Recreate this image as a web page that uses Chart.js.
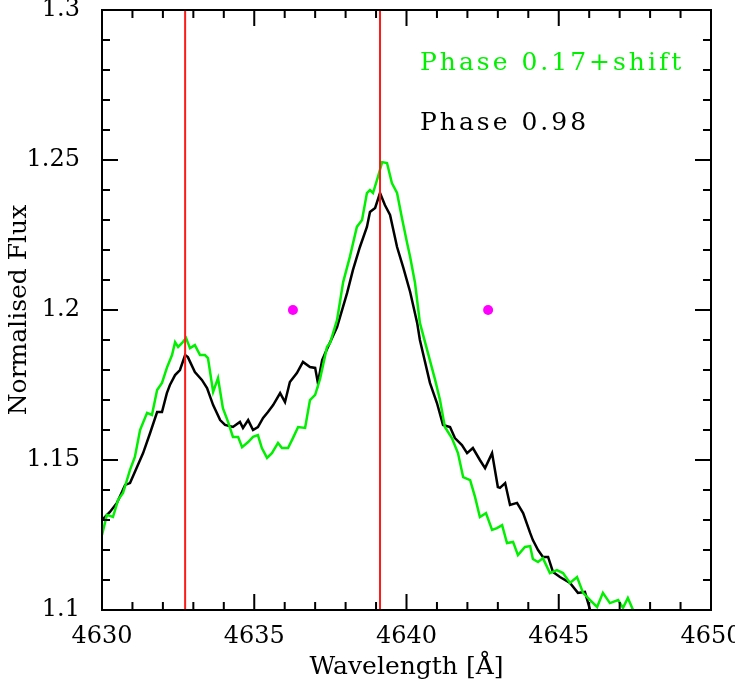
<!DOCTYPE html>
<html>
<head>
<meta charset="utf-8">
<script src="https://cdn.jsdelivr.net/npm/chart.js@4.4.1/dist/chart.umd.min.js"></script>
<style>
  body { margin: 0; background: #fff; }
  #wrap { width: 735px; height: 686px; }
</style>
</head>
<body>
<div id="wrap"><canvas id="myChart" width="735" height="686"></canvas></div>
<script>
// spectrum, phase 0.98
const blackWave = [4630.00, 4630.26, 4630.49, 4630.76, 4630.92, 4631.15, 4631.35, 4631.58, 4631.81, 4631.97,
  4632.13, 4632.23, 4632.40, 4632.56, 4632.73, 4632.82, 4633.05, 4633.28, 4633.45, 4633.65,
  4633.88, 4634.04, 4634.30, 4634.53, 4634.63, 4634.80, 4634.96, 4635.12, 4635.29, 4635.45,
  4635.62, 4635.85, 4636.01, 4636.17, 4636.40, 4636.60, 4636.83, 4637.00, 4637.09, 4637.23,
  4637.39, 4637.72, 4638.05, 4638.24, 4638.47, 4638.70, 4638.80, 4638.97, 4639.13, 4639.29,
  4639.46, 4639.69, 4639.89, 4640.12, 4640.35, 4640.44, 4640.77, 4641.00, 4641.20, 4641.43,
  4641.59, 4641.82, 4641.99, 4642.18, 4642.41, 4642.58, 4642.81, 4643.00, 4643.07, 4643.24,
  4643.40, 4643.63, 4643.83, 4644.06, 4644.15, 4644.32, 4644.48, 4644.65, 4644.81, 4645.04,
  4645.37, 4645.63, 4645.86, 4646.03, 4646.30];
const blackFlux = [1.1300, 1.1327, 1.1357, 1.1417, 1.1423, 1.1477, 1.1523, 1.1590, 1.1660, 1.1660,
  1.1723, 1.1750, 1.1783, 1.1800, 1.1850, 1.1843, 1.1793, 1.1767, 1.1740, 1.1683,
  1.1633, 1.1617, 1.1610, 1.1627, 1.1607, 1.1633, 1.1600, 1.1610, 1.1640, 1.1660,
  1.1683, 1.1723, 1.1693, 1.1760, 1.1790, 1.1827, 1.1810, 1.1807, 1.1757, 1.1833,
  1.1870, 1.1943, 1.2057, 1.2133, 1.2210, 1.2277, 1.2327, 1.2340, 1.2390, 1.2350,
  1.2317, 1.2210, 1.2143, 1.2060, 1.1957, 1.1900, 1.1757, 1.1690, 1.1617, 1.1610,
  1.1573, 1.1550, 1.1523, 1.1540, 1.1500, 1.1473, 1.1523, 1.1410, 1.1407, 1.1423,
  1.1350, 1.1357, 1.1323, 1.1257, 1.1233, 1.1200, 1.1177, 1.1177, 1.1127, 1.1110,
  1.1090, 1.1057, 1.1060, 1.1000, 1.0950];

// spectrum, phase 0.17 shifted
const greenWave = [4630.00, 4630.16, 4630.36, 4630.53, 4630.69, 4630.92, 4631.08, 4631.25, 4631.48, 4631.64,
  4631.81, 4631.97, 4632.13, 4632.30, 4632.40, 4632.50, 4632.63, 4632.76, 4632.89, 4633.05,
  4633.22, 4633.38, 4633.48, 4633.65, 4633.81, 4633.97, 4634.14, 4634.30, 4634.47, 4634.60,
  4634.80, 4634.96, 4635.12, 4635.25, 4635.42, 4635.58, 4635.78, 4635.91, 4636.11, 4636.27,
  4636.44, 4636.67, 4636.83, 4637.00, 4637.16, 4637.39, 4637.49, 4637.72, 4637.92, 4638.14,
  4638.37, 4638.54, 4638.70, 4638.80, 4638.90, 4639.06, 4639.20, 4639.36, 4639.52, 4639.69,
  4639.85, 4640.02, 4640.12, 4640.28, 4640.44, 4640.94, 4641.10, 4641.26, 4641.49, 4641.69,
  4641.86, 4642.09, 4642.25, 4642.41, 4642.61, 4642.81, 4642.97, 4643.14, 4643.30, 4643.50,
  4643.66, 4643.89, 4644.06, 4644.15, 4644.32, 4644.48, 4644.71, 4644.94, 4645.14, 4645.37,
  4645.60, 4645.80, 4646.03, 4646.26, 4646.45, 4646.68, 4646.95, 4647.11, 4647.27, 4647.44];
const greenFlux = [1.1250, 1.1317, 1.1310, 1.1367, 1.1390, 1.1467, 1.1510, 1.1600, 1.1657, 1.1650,
  1.1733, 1.1757, 1.1807, 1.1850, 1.1893, 1.1877, 1.1890, 1.1907, 1.1873, 1.1883,
  1.1850, 1.1850, 1.1840, 1.1727, 1.1773, 1.1673, 1.1627, 1.1577, 1.1577, 1.1543,
  1.1560, 1.1577, 1.1583, 1.1540, 1.1507, 1.1523, 1.1557, 1.1540, 1.1540, 1.1573,
  1.1610, 1.1607, 1.1700, 1.1717, 1.1770, 1.1877, 1.1890, 1.1967, 1.2093, 1.2177,
  1.2277, 1.2300, 1.2390, 1.2400, 1.2390, 1.2443, 1.2493, 1.2490, 1.2423, 1.2390,
  1.2307, 1.2223, 1.2177, 1.2090, 1.1957, 1.1767, 1.1700, 1.1610, 1.1573, 1.1523,
  1.1443, 1.1433, 1.1377, 1.1310, 1.1323, 1.1267, 1.1273, 1.1283, 1.1223, 1.1227,
  1.1183, 1.1210, 1.1213, 1.1170, 1.1160, 1.1173, 1.1123, 1.1133, 1.1123, 1.1090,
  1.1110, 1.1057, 1.1033, 1.1010, 1.1057, 1.1023, 1.1033, 1.1007, 1.1040, 1.1000];

// red line positions and magenta markers
const lineWave = [4632.73, 4639.13];
const dotWave = [4636.27, 4642.68];
const dotFlux = [1.2, 1.2];

const xMin = 4630, xMax = 4650, xStep = 5, xMinor = 1;
const yMin = 1.1, yMax = 1.3, yStep = 0.05, yMinor = 0.01;

const legendLabels = ["Phase 0.17+shift", "Phase 0.98"];
const greenCol = "#00f000";
const serif = "'DejaVu Serif', serif";

function zip(xs, ys) {
  return xs.map(function(v, i) { return {x: v, y: ys[i]}; });
}

let datasets = [];
lineWave.forEach(function(w) {
  datasets.push({
    data: [{x: w, y: yMin}, {x: w, y: yMax}],
    showLine: true, borderColor: "#ff1a1a", borderWidth: 2, pointRadius: 0
  });
});
datasets.push({
  data: zip(dotWave, dotFlux),
  showLine: false, pointRadius: 5, backgroundColor: "#ff00ff", borderWidth: 0
});
datasets.push({
  data: zip(greenWave, greenFlux),
  showLine: true, borderColor: greenCol, borderWidth: 2.5, pointRadius: 0, tension: 0
});
datasets.push({
  data: zip(blackWave, blackFlux),
  showLine: true, borderColor: "#000", borderWidth: 2.5, pointRadius: 0, tension: 0
});

// frame with inward ticks on every side, plus the two text labels
const frameTicks = {
  id: "frameTicks",
  afterDraw(chart) {
    const ctx = chart.ctx;
    const a = chart.chartArea;
    const x = chart.scales.x, y = chart.scales.y;
    ctx.save();
    ctx.strokeStyle = "#000";
    ctx.lineWidth = 2;
    ctx.strokeRect(a.left, a.top, a.right - a.left, a.bottom - a.top);
    ctx.beginPath();
    let n = Math.round((xMax - xMin) / xMinor);
    for (let i = 0; i <= n; i++) {
      const v = xMin + i * xMinor;
      const px = x.getPixelForValue(v);
      const len = (i % Math.round(xStep / xMinor) === 0) ? 16 : 8;
      ctx.moveTo(px, a.bottom); ctx.lineTo(px, a.bottom - len);
      ctx.moveTo(px, a.top); ctx.lineTo(px, a.top + len);
    }
    n = Math.round((yMax - yMin) / yMinor);
    for (let i = 0; i <= n; i++) {
      const v = yMin + i * yMinor;
      const py = y.getPixelForValue(v);
      const len = (i % Math.round(yStep / yMinor) === 0) ? 16 : 8;
      ctx.moveTo(a.left, py); ctx.lineTo(a.left + len, py);
      ctx.moveTo(a.right, py); ctx.lineTo(a.right - len, py);
    }
    ctx.stroke();

    ctx.font = "25px " + serif;
    ctx.letterSpacing = "3px";
    ctx.textAlign = "left";
    ctx.textBaseline = "alphabetic";
    ctx.fillStyle = greenCol;
    ctx.fillText(legendLabels[0], 420, 70);
    ctx.fillStyle = "#000";
    ctx.fillText(legendLabels[1], 420, 130);
    ctx.restore();
  }
};

let config = {
  type: "scatter",
  data: {datasets: datasets},
  options: {
    responsive: false,
    animation: false,
    layout: {padding: {top: 10, right: 24, left: 0, bottom: 0}},
    plugins: {legend: {display: false}, tooltip: {enabled: false}},
    scales: {
      x: {
        type: "linear", min: xMin, max: xMax,
        grid: {display: false}, border: {display: false},
        ticks: {
          stepSize: xStep, padding: 4, color: "#000",
          font: {family: serif, size: 24},
          callback: function(v) { return String(v); }
        },
        title: {display: true, text: "Wavelength [Å]", color: "#000", font: {family: serif, size: 25}, padding: {top: 0}},
        afterFit: function(s) { s.height = 76; s.paddingLeft = 0; s.paddingRight = 0; }
      },
      y: {
        type: "linear", min: yMin, max: yMax,
        grid: {display: false}, border: {display: false},
        ticks: {
          stepSize: yStep, padding: 14, color: "#000",
          font: {family: serif, size: 24},
          callback: function(v) { return String(parseFloat(v.toFixed(2))); }
        },
        title: {display: true, text: "Normalised Flux", color: "#000", font: {family: serif, size: 25}, padding: {bottom: 0}},
        afterFit: function(s) { s.width = 102; s.paddingTop = 0; s.paddingBottom = 0; }
      }
    }
  },
  plugins: [frameTicks]
};

let myChart = new Chart(document.getElementById("myChart"), config);
</script>
</body>
</html>
